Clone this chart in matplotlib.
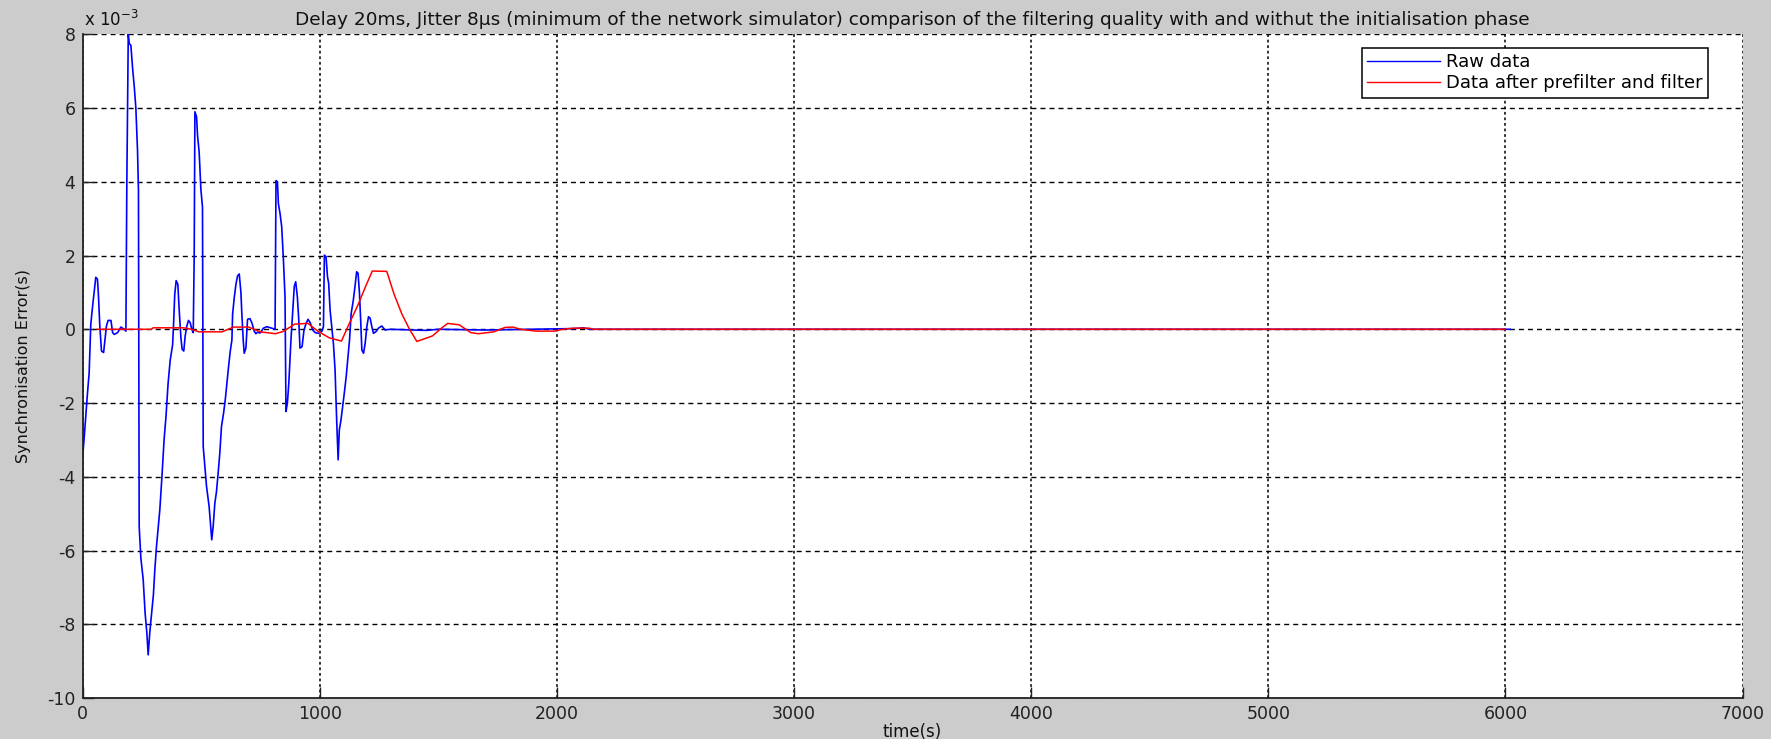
import matplotlib
matplotlib.use("Agg")
import matplotlib.pyplot as plt

plt.rcParams['lines.scale_dashes'] = False
plt.rcParams['font.family'] = ['DejaVu Sans']

# ---- data (synchronisation error in units of 1e-3 s) ----
raw_time = [0, 7, 14, 21, 28, 31, 35, 42, 52, 56, 63, 67, 73, 80, 89, 94, 101, 108, 120, 127,
            134, 148, 162, 176, 183, 187, 193, 197, 204, 211, 218, 225, 232, 236, 239, 246, 256,
            264, 271, 277, 284, 291, 299, 305, 312, 319, 326, 335, 344, 352, 361, 370, 380, 384,
            389, 395, 402, 408, 415, 420, 427, 433, 440, 447, 454, 461, 467, 471, 474, 481, 485,
            492, 499, 506, 509, 516, 523, 534, 541, 545, 551, 558, 565, 572, 579, 586, 595, 602,
            609, 616, 623, 630, 633, 640, 647, 654, 661, 668, 672, 678, 682, 689, 696, 706, 714,
            724, 731, 738, 749, 763, 777, 798, 812, 816, 822, 826, 833, 840, 847, 854, 858, 864,
            870, 875, 879, 886, 893, 899, 906, 912, 917, 926, 934, 943, 951, 960, 971, 981, 995,
            1009, 1016, 1020, 1027, 1033, 1038, 1044, 1051, 1058, 1065, 1072, 1078, 1083, 1090,
            1097, 1104, 1112, 1119, 1126, 1133, 1142, 1149, 1156, 1162, 1168, 1173, 1178, 1185,
            1192, 1199, 1206, 1213, 1220, 1227, 1238, 1248, 1262, 1276, 1297, 1400, 1450, 1500,
            1700, 1900, 2080, 2110, 2140, 6020]
raw_error = [-3.5, -2.95, -2.32, -1.73, -1.19, -0.6, 0.14, 0.59, 1.18, 1.41, 1.36, 0.95, 0.09,
             -0.59, -0.63, -0.32, 0.09, 0.24, 0.24, -0.09, -0.14, -0.09, 0.06, 0.0, -0.05, 4.0,
             8.0, 7.75, 7.7, 7.1, 6.6, 6.0, 4.85, 3.76, -5.35, -6.2, -6.79, -7.7, -8.2, -8.83,
             -8.2, -7.74, -7.2, -6.52, -5.89, -5.39, -4.9, -3.99, -3.0, -2.37, -1.46, -0.83,
             -0.42, 0.14, 0.95, 1.32, 1.22, 0.5, -0.23, -0.54, -0.59, -0.18, 0.09, 0.24, 0.18,
             0.0, -0.09, 2.0, 5.9, 5.76, 5.26, 4.8, 3.81, 3.31, -3.18, -3.72, -4.26, -4.81,
             -5.39, -5.71, -5.35, -4.72, -4.4, -3.9, -3.36, -2.64, -2.27, -1.91, -1.46, -1.01,
             -0.6, -0.29, 0.41, 0.86, 1.22, 1.45, 1.5, 1.0, 0.41, -0.32, -0.65, -0.51, 0.27,
             0.29, 0.18, -0.05, -0.12, -0.08, -0.1, 0.03, 0.07, 0.03, 0.0, 4.03, 4.0, 3.41,
             3.14, 2.78, 1.92, 0.88, -2.23, -2.0, -1.46, -0.83, -0.29, 0.43, 1.16, 1.29, 0.88,
             0.25, -0.51, -0.47, -0.02, 0.16, 0.27, 0.18, -0.02, -0.09, -0.11, -0.06, 0.07,
             2.01, 1.97, 1.43, 1.25, 0.52, 0.07, -0.38, -1.1, -2.5, -3.54, -2.73, -2.46, -2.1,
             -1.73, -1.28, -0.78, -0.29, 0.43, 0.79, 1.16, 1.56, 1.52, 0.97, 0.25, -0.56, -0.65,
             -0.38, 0.07, 0.34, 0.3, 0.07, -0.11, -0.06, 0.03, 0.09, -0.02, 0.0, -0.02, -0.03,
             0.0, -0.02, 0.0, 0.02, 0.04, 0.0, 0.0]

filt_time = [62, 290, 298, 427, 459, 491, 588, 637, 701, 750, 814, 846, 895, 951, 992, 1040,
             1092, 1121, 1161, 1193, 1222, 1283, 1314, 1347, 1379, 1410, 1476, 1508, 1540, 1589,
             1637, 1669, 1734, 1782, 1815, 1847, 1912, 1992, 2025, 2073, 2137, 2153, 6000]
filt_error = [0.0, 0.0, 0.04, 0.04, 0.0, -0.07, -0.07, 0.06, 0.06, -0.07, -0.12, -0.06, 0.14,
              0.16, -0.05, -0.23, -0.32, 0.1, 0.65, 1.15, 1.58, 1.57, 0.95, 0.41, 0.0, -0.33,
              -0.18, 0.0, 0.16, 0.12, -0.09, -0.12, -0.07, 0.05, 0.06, 0.0, -0.05, -0.05, 0.0,
              0.03, 0.03, 0.0, 0.0]

x_ticks = [0, 1000, 2000, 3000, 4000, 5000, 6000, 7000]
y_ticks = [-10, -8, -6, -4, -2, 0, 2, 4, 6, 8]
series_labels = ["Raw data", "Data after prefilter and filter"]
title_text = ("Delay 20ms, Jitter 8\u03bcs (minimum of the network simulator) comparison of the "
              "filtering quality with and withut the initialisation phase")
x_label = "time(s)"
y_label = "Synchronisation Error(s)"

# ---- figure ----
W, H = 1771, 739
fig = plt.figure(figsize=(W / 100, H / 100), dpi=100, facecolor='#cccccc')
left, right, top, bottom = 82.5, 1742.5, 34.3, 698.0
ax = fig.add_axes([left / W, 1 - bottom / H, (right - left) / W, (bottom - top) / H])
ax.set_facecolor('white')

ax.plot(raw_time, raw_error, color='#0000ff', lw=1.2, label=series_labels[0], zorder=3)
ax.plot(filt_time, filt_error, color='#ff0000', lw=1.1, label=series_labels[1], zorder=4)

ax.set_xlim(0, 7000)
ax.set_ylim(-10, 8)
ax.set_xticks(x_ticks)
ax.set_yticks(y_ticks)
ax.set_xticklabels([str(v) for v in x_ticks])
ax.set_yticklabels([str(v) for v in y_ticks])

ax.yaxis.grid(True, color='black', lw=1.0, linestyle=(0, (3.6, 2.9)), zorder=1)
ax.xaxis.grid(True, color='black', lw=1.1, linestyle=(0, (2.0, 2.0)), zorder=1)
ax.set_axisbelow(True)

for s in ['top', 'right']:
    ax.spines[s].set_visible(False)
for s in ['left', 'bottom']:
    ax.spines[s].set_linewidth(1.3)
    ax.spines[s].set_color('#222222')

ax.tick_params(direction='in', length=8, width=1.0, labelsize=12.5, colors='#222222',
               pad=5)
ax.tick_params(axis='x', pad=5)

ax.set_title(title_text, fontsize=13.3, color='#111111', pad=7)
ax.set_xlabel(x_label, fontsize=12, color='#111111', labelpad=0)
ax.set_ylabel(y_label, fontsize=11.5, color='#111111', labelpad=12)

fig.text(84 / W, 1 - 20 / H, "x 10$^{-3}$", fontsize=12, color='#111111',
         ha='left', va='center')

leg = ax.legend(loc='upper right', bbox_to_anchor=((1708 - left) / (right - left),
                                                    (bottom - 48) / (bottom - top)),
                fontsize=13, frameon=True, fancybox=False, framealpha=1.0,
                edgecolor='black', handlelength=4.0, borderpad=0.3, labelspacing=0.15,
                handletextpad=0.35, borderaxespad=0)
leg.get_frame().set_linewidth(1.1)
for l in leg.get_lines():
    l.set_linewidth(1.0)

fig.savefig('out.png', dpi=100, facecolor=fig.get_facecolor())
